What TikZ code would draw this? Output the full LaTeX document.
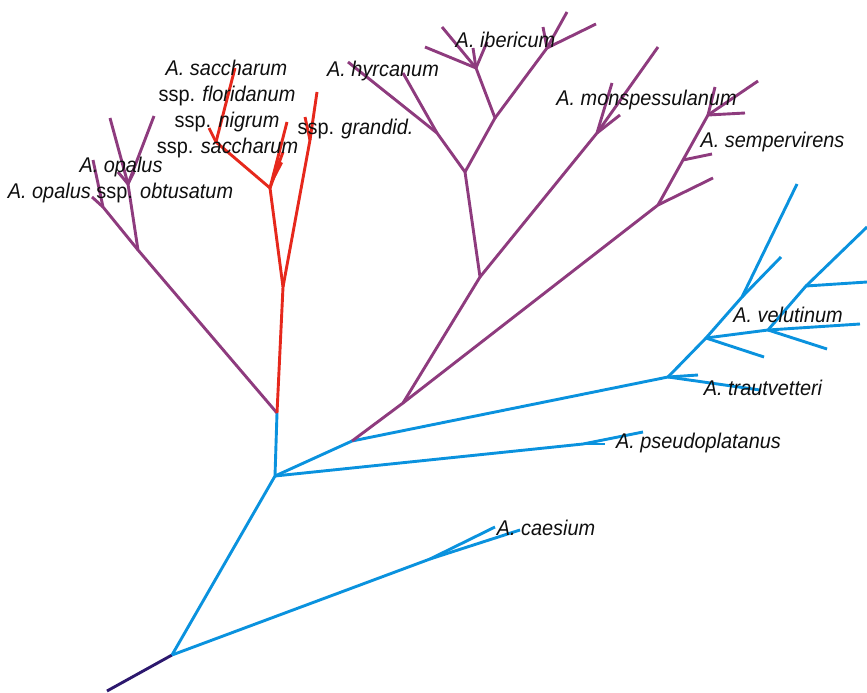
\documentclass[tikz,border=0pt]{standalone}
\usepackage{fontspec}
\usepackage{graphicx}
\setmainfont{Liberation Sans}
\definecolor{treeblue}{RGB}{10,146,222}
\definecolor{treepurple}{RGB}{142,59,126}
\definecolor{treered}{RGB}{230,40,28}
\definecolor{treeroot}{RGB}{44,24,110}
\definecolor{labeltext}{RGB}{15,15,15}
% taxon labels are set slightly taller than the plain font
\newcommand\taxon[1]{\scalebox{1}[1.07]{#1}}
\begin{document}
\begin{tikzpicture}[x=1pt,y=-1pt,
  br/.style={line width=2.9pt, line join=round},
  bluebr/.style={br, draw=treeblue},
  purplebr/.style={br, draw=treepurple},
  redbr/.style={br, draw=treered},
  rootbr/.style={br, draw=treeroot},
  lbl/.style={anchor=base, inner sep=0pt, text=labeltext,
    font=\fontsize{19.9}{23}\selectfont}]
\useasboundingbox (0,0) rectangle (867,693);

% ---------- internal nodes and tips ----------
% root and blue backbone
\coordinate (r0) at (107,691);
\coordinate (n1) at (172,655);
\coordinate (n2) at (275,476);
\coordinate (n3) at (277,413);
\coordinate (n4) at (352,441);
\coordinate (n6) at (668,377);
% caesium
\coordinate (ca) at (430,559);
\coordinate (ca1) at (495,527);
\coordinate (ca2) at (520,530);
% pseudoplatanus
\coordinate (ps) at (583,444);
\coordinate (ps1) at (605,444);
\coordinate (ps2) at (643,432);
% trautvetteri / velutinum
\coordinate (tr1) at (698,375);
\coordinate (tr2) at (760,390);
\coordinate (v1) at (706,338);
\coordinate (v1a) at (764,357);
\coordinate (v2) at (742,297);
\coordinate (v2a) at (797,184);
\coordinate (v2b) at (781,257);
\coordinate (v3) at (768,330);
\coordinate (v3a) at (860,324);
\coordinate (v3b) at (827,349);
\coordinate (v4) at (806,286);
\coordinate (v4a) at (867,282);
\coordinate (v4b) at (867,227);
% opalus
\coordinate (o1) at (138,250);
\coordinate (o2) at (128,184);
\coordinate (o2a) at (110,118);
\coordinate (o2b) at (154,116);
\coordinate (o2c) at (118,172);
\coordinate (o2d) at (134,172);
\coordinate (o3) at (103,207);
\coordinate (o3a) at (93,160);
\coordinate (o3b) at (92,197);
% hyrcanum / ibericum / monspessulanum / sempervirens
\coordinate (n5) at (403,403);
\coordinate (n7) at (480,277);
\coordinate (n9) at (465,172);
\coordinate (h1) at (437,133);
\coordinate (h1a) at (348,62);
\coordinate (h1b) at (403,73);
\coordinate (i1) at (495,118);
\coordinate (ib) at (476,68);
\coordinate (iba) at (442,27);
\coordinate (ibb) at (425,47);
\coordinate (ibc) at (473,48);
\coordinate (ibd) at (487,42);
\coordinate (i2) at (547,48);
\coordinate (i2a) at (567,12);
\coordinate (i2b) at (596,24);
\coordinate (i2c) at (543,27);
\coordinate (m) at (597,133);
\coordinate (ma) at (658,47);
\coordinate (mb) at (612,83);
\coordinate (mc) at (620,115);
\coordinate (n8) at (658,205);
\coordinate (n8a) at (713,178);
\coordinate (s1) at (683,160);
\coordinate (s1a) at (712,154);
\coordinate (s2) at (708,115);
\coordinate (s2a) at (758,81);
\coordinate (s2b) at (745,113);
\coordinate (s2c) at (715,87);
% saccharum group
\coordinate (r1) at (283,287);
\coordinate (r2) at (270,188);
\coordinate (r2a) at (287,122);
\coordinate (r2b) at (283,152);
\coordinate (r3) at (216,142);
\coordinate (r3a) at (235,68);
\coordinate (r3b) at (209,128);
\coordinate (g) at (310,140);
\coordinate (ga) at (317,92);
\coordinate (gb) at (305,117);

% ---------- branches ----------
\draw[rootbr] (r0) -- (n1);

\draw[bluebr] (n1) -- (n2) -- (n3);
\draw[bluebr] (n1) -- (ca) -- (ca1);
\draw[bluebr] (ca) -- (ca2);
\draw[bluebr] (n2) -- (ps) -- (ps2);
\draw[bluebr] (ps) -- (ps1);
\draw[bluebr] (n2) -- (n4) -- (n6) -- (tr2);
\draw[bluebr] (n6) -- (tr1);
\draw[bluebr] (n6) -- (v1) -- (v2) -- (v2a);
\draw[bluebr] (v2) -- (v2b);
\draw[bluebr] (v1) -- (v1a);
\draw[bluebr] (v1) -- (v3) -- (v4) -- (v4b);
\draw[bluebr] (v4) -- (v4a);
\draw[bluebr] (v3) -- (v3a);
\draw[bluebr] (v3) -- (v3b);

\draw[purplebr] (n3) -- (o1) -- (o2) -- (o2a);
\draw[purplebr] (o2) -- (o2b);
\draw[purplebr] (o2) -- (o2c);
\draw[purplebr] (o2) -- (o2d);
\draw[purplebr] (o1) -- (o3) -- (o3a);
\draw[purplebr] (o3) -- (o3b);

\draw[purplebr] (n4) -- (n5) -- (n7) -- (n9) -- (h1) -- (h1a);
\draw[purplebr] (h1) -- (h1b);
\draw[purplebr] (n9) -- (i1) -- (ib) -- (iba);
\draw[purplebr] (ib) -- (ibb);
\draw[purplebr] (ib) -- (ibc);
\draw[purplebr] (ib) -- (ibd);
\draw[purplebr] (i1) -- (i2) -- (i2a);
\draw[purplebr] (i2) -- (i2b);
\draw[purplebr] (i2) -- (i2c);
\draw[purplebr] (n7) -- (m) -- (ma);
\draw[purplebr] (m) -- (mb);
\draw[purplebr] (m) -- (mc);
\draw[purplebr] (n5) -- (n8) -- (n8a);
\draw[purplebr] (n8) -- (s1) -- (s1a);
\draw[purplebr] (s1) -- (s2) -- (s2a);
\draw[purplebr] (s2) -- (s2b);
\draw[purplebr] (s2) -- (s2c);

\draw[redbr] (n3) -- (r1) -- (r2) -- (r2a);
\draw[redbr] (r2) -- (r2b);
\fill[treered] (r2) -- (276,160) -- (283,163) -- cycle;
\draw[redbr] (r2) -- (r3) -- (r3a);
\draw[redbr] (r3) -- (r3b);
\draw[redbr] (r1) -- (g) -- (ga);
\draw[redbr] (g) -- (gb);

% ---------- labels ----------
\node[lbl] (lsacc) at (226.5,75) {\taxon{\itshape A. saccharum}};
\node[lbl] (lflor) at (227,101) {\taxon{ssp. \textit{floridanum}}};
\node[lbl] (lnigr) at (227,127) {\taxon{ssp. \textit{nigrum}}};
\node[lbl] (lssac) at (227.5,153) {\taxon{ssp. \textit{saccharum}}};
\node[lbl] (lopal) at (121,172) {\taxon{\itshape A. opalus}};
\node[lbl] (lobtu) at (120.5,198) {\taxon{\textit{A. opalus} ssp. \textit{obtusatum}}};
\node[lbl] (lgran) at (355.5,134) {\taxon{ssp. \textit{grandid.}}};
\node[lbl] (lhyrc) at (383,77) {\taxon{\itshape A. hyrcanum}};
\node[lbl] (liber) at (505.5,48) {\taxon{\itshape A. ibericum}};
\node[lbl] (lmons) at (646.5,105) {\taxon{\itshape A. monspessulanum}};
\node[lbl] (lsemp) at (772.5,147) {\taxon{\itshape A. sempervirens}};
\node[lbl] (lvelu) at (788,322) {\taxon{\itshape A. velutinum}};
\node[lbl] (ltrau) at (763,395) {\taxon{\itshape A. trautvetteri}};
\node[lbl] (lpseu) at (698.5,448) {\taxon{\itshape A. pseudoplatanus}};
\node[lbl] (lcaes) at (546,535) {\taxon{\itshape A. caesium}};
\end{tikzpicture}
\end{document}
